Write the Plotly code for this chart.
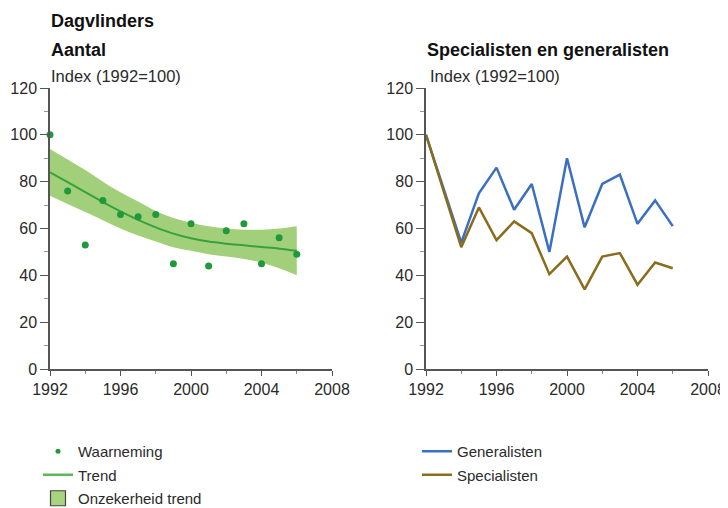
import plotly.graph_objects as go

years = list(range(1992, 2007))

# Left panel: Dagvlinders - Aantal
waarneming = [100, 76, 53, 72, 66, 65, 66, 45, 62, 44, 59, 62, 45, 56, 49]
trend = [84, 79.8, 75.5, 71.3, 67.3, 63.7, 60.5, 57.8, 55.8, 54.4, 53.5, 52.8, 52.1, 51.4, 50.5]
trend_upper = [94, 89.5, 85, 80, 75.5, 71.5, 67.5, 64.5, 62.5, 61, 60, 59.5, 59.5, 60, 61]
trend_lower = [74, 70.5, 67, 63.5, 60, 57, 54.5, 52, 50.5, 49, 48, 47, 45.5, 43, 40]

# Right panel: Specialisten en generalisten
generalisten = [100, 77, 54, 75, 86, 68, 79, 50, 90, 60.5, 79, 83, 62, 72, 61]
specialisten = [100, 76, 52, 69, 55, 63, 58, 40.5, 48, 34, 48, 49.5, 36, 45.5, 43]

y_ticks = [0, 20, 40, 60, 80, 100, 120]
x_ticks = [1992, 1996, 2000, 2004, 2008]

# page has an 8px body margin; figure is sized to fill the 728x508 window
OFF = 8
W, H = 728 - OFF, 508 - OFF
FONT = "Liberation Sans, Arial, Helvetica, sans-serif"
AXIS_COL = "#555555"
TEXT_COL = "#2a2a2a"

GREEN_PT = "#1f9a3a"
GREEN_LINE = "#36a23a"
GREEN_BAND = "#a2d07a"
BLUE = "#3b6fc0"
BROWN = "#8a6c1d"


def px_x(px):
    return (px - OFF) / W


def px_y(py):
    return 1 - (py - OFF) / H


fig = go.Figure()

# uncertainty band (lower edge, then upper edge filled down to it)
fig.add_trace(go.Scatter(
    x=years, y=trend_lower, mode="lines", line=dict(width=0, shape="spline"),
    hoverinfo="skip", showlegend=False, xaxis="x", yaxis="y"))
fig.add_trace(go.Scatter(
    x=years, y=trend_upper, mode="lines", line=dict(width=0, shape="spline"),
    fill="tonexty", fillcolor=GREEN_BAND,
    hoverinfo="skip", showlegend=False, xaxis="x", yaxis="y"))
fig.add_trace(go.Scatter(
    x=years, y=trend, mode="lines", line=dict(color=GREEN_LINE, width=2, shape="spline"),
    showlegend=False, xaxis="x", yaxis="y"))
fig.add_trace(go.Scatter(
    x=years, y=waarneming, mode="markers", marker=dict(color=GREEN_PT, size=7),
    showlegend=False, xaxis="x", yaxis="y", cliponaxis=False))

# legend entries (left)
fig.add_trace(go.Scatter(x=[None], y=[None], mode="markers", name="Waarneming",
                         marker=dict(color=GREEN_PT, size=5), legend="legend",
                         legendgroup="a", xaxis="x", yaxis="y"))
fig.add_trace(go.Scatter(x=[None], y=[None], mode="lines", name="Trend",
                         line=dict(color="#5db85a", width=2.5), legend="legend",
                         legendgroup="b", xaxis="x", yaxis="y"))
fig.add_trace(go.Scatter(x=[None], y=[None], mode="markers", name="Onzekerheid trend",
                         marker=dict(symbol="square", size=15, color="#a8d47e",
                                     line=dict(color="#444444", width=1.2)),
                         legend="legend", legendgroup="c", xaxis="x", yaxis="y"))

# right panel lines
fig.add_trace(go.Scatter(x=years, y=generalisten, mode="lines", name="Generalisten",
                         line=dict(color=BLUE, width=2.5), legend="legend2",
                         legendgroup="d", xaxis="x2", yaxis="y2"))
fig.add_trace(go.Scatter(x=years, y=specialisten, mode="lines", name="Specialisten",
                         line=dict(color=BROWN, width=2.5), legend="legend2",
                         legendgroup="e", xaxis="x2", yaxis="y2"))

ydom = [px_y(369), px_y(88)]


def xaxis_cfg(dom):
    return dict(
        domain=dom, range=[1992, 2008], tickvals=x_ticks, ticktext=[str(v) for v in x_ticks],
        showline=True, linecolor=AXIS_COL, linewidth=1.5, ticks="outside", ticklen=5,
        tickwidth=1, tickcolor=AXIS_COL, showgrid=False, zeroline=False, automargin=False,
        tickfont=dict(family=FONT, size=16, color=TEXT_COL),
        minor=dict(tickvals=[1994, 1998, 2002, 2006], ticks="outside", ticklen=3,
                   tickcolor="#888888", tickwidth=1, showgrid=False),
        fixedrange=True)


def yaxis_cfg(anchor):
    return dict(
        domain=ydom, range=[0, 120], tickvals=y_ticks, anchor=anchor,
        showline=True, linecolor=AXIS_COL, linewidth=1.5, ticks="outside", ticklen=8,
        tickwidth=1, tickcolor=AXIS_COL, showgrid=False, zeroline=False, automargin=False,
        tickfont=dict(family=FONT, size=16, color=TEXT_COL),
        minor=dict(tickvals=[10, 30, 50, 70, 90, 110], ticks="outside", ticklen=4,
                   tickcolor="#999999", tickwidth=1, showgrid=False),
        fixedrange=True)


x1 = xaxis_cfg([px_x(50), px_x(332)]); x1["anchor"] = "y"
x2 = xaxis_cfg([px_x(426), px_x(708)]); x2["anchor"] = "y2"


def ann(text, px, py, size=16, bold=False):
    return dict(text=f"<b>{text}</b>" if bold else text, x=px_x(px), y=px_y(py),
                xref="paper", yref="paper", xanchor="left", yanchor="middle",
                showarrow=False,
                font=dict(family=FONT, size=size, color="#111111" if bold else TEXT_COL))


legend_common = dict(font=dict(family=FONT, size=15, color=TEXT_COL), bgcolor="rgba(0,0,0,0)",
                     traceorder="grouped", tracegroupgap=1, yanchor="top", xanchor="left",
                     itemclick=False, itemdoubleclick=False)

fig.update_layout(
    width=W, height=H, margin=dict(l=0, r=0, t=0, b=0, autoexpand=False),
    paper_bgcolor="white", plot_bgcolor="white",
    xaxis=x1, yaxis=yaxis_cfg("x"), xaxis2=x2, yaxis2=yaxis_cfg("x2"),
    legend=dict(x=px_x(38), y=px_y(435), **legend_common),
    legend2=dict(x=px_x(417), y=px_y(435), **legend_common),
    annotations=[
        ann("Dagvlinders", 49, 21, size=18, bold=True),
        ann("Aantal", 49, 50, size=18, bold=True),
        ann("Index (1992=100)", 49, 76, size=16.5),
        ann("Specialisten en generalisten", 425, 50, size=18, bold=True),
        ann("Index (1992=100)", 428, 76, size=16.5),
    ],
    showlegend=True,
)

fig.write_html("out.html")
